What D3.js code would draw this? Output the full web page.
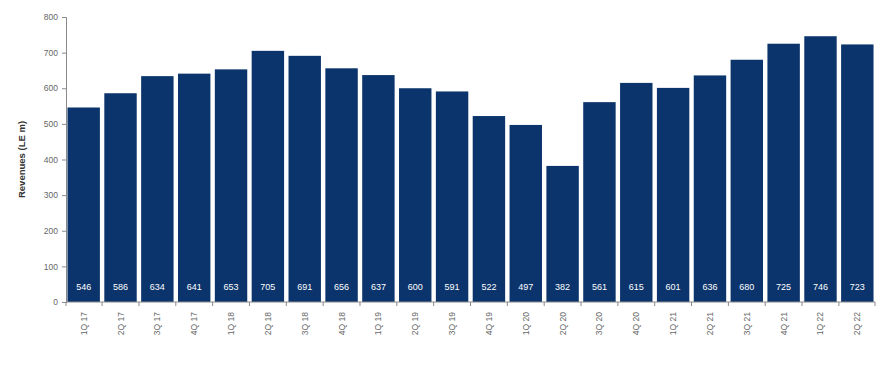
<!DOCTYPE html>
<html>
<head>
<meta charset="utf-8">
<script src="https://cdn.jsdelivr.net/npm/d3@7"></script>
<style>
  html, body { margin: 0; padding: 0; background: #fff; }
  svg { display: block; font-family: "Liberation Sans", Arial, sans-serif; }
</style>
</head>
<body>
<svg id="chart" width="888" height="372"></svg>
<script>
// Quarterly revenues, LE millions
const quarters = ["1Q 17","2Q 17","3Q 17","4Q 17","1Q 18","2Q 18","3Q 18","4Q 18","1Q 19","2Q 19","3Q 19","4Q 19","1Q 20","2Q 20","3Q 20","4Q 20","1Q 21","2Q 21","3Q 21","4Q 21","1Q 22","2Q 22"];
const revenues = [546, 586, 634, 641, 653, 705, 691, 656, 637, 600, 591, 522, 497, 382, 561, 615, 601, 636, 680, 725, 746, 723];
const yTicks = [0, 100, 200, 300, 400, 500, 600, 700, 800];
const yTitle = "Revenues (LE m)";

const svg = d3.select("#chart");
const m = { left: 66, right: 13, top: 17, bottom: 70 };
const W = 888, H = 372;

const x = d3.scaleBand().domain(quarters)
  .range([m.left, W - m.right]).paddingInner(0.12).paddingOuter(0.04);
const y = d3.scaleLinear().domain([0, 800]).range([H - m.bottom, m.top]);

const axisColor = "#8a8a8a";
const textColor = "#666";

// bars
svg.append("g").selectAll("rect").data(revenues).join("rect")
  .attr("x", (d, i) => x(quarters[i]))
  .attr("y", d => y(d))
  .attr("width", x.bandwidth())
  .attr("height", d => y(0) - y(d))
  .attr("fill", "#0b346c");

// value labels at the foot of each bar
svg.append("g").selectAll("text").data(revenues).join("text")
  .attr("x", (d, i) => x(quarters[i]) + x.bandwidth() / 2)
  .attr("y", y(0) - 12)
  .attr("text-anchor", "middle")
  .attr("font-size", 9)
  .attr("fill", "#fff")
  .text(d => d);

// y axis
const yAxis = svg.append("g").attr("transform", `translate(${m.left},0)`)
  .call(d3.axisLeft(y).tickValues(yTicks).tickSize(4).tickPadding(4));
yAxis.select(".domain").attr("stroke", axisColor);
yAxis.selectAll(".tick line").attr("stroke", axisColor);
yAxis.selectAll(".tick text").attr("fill", textColor).attr("font-size", 8.5)
  .attr("font-family", "Liberation Sans, Arial, sans-serif");

// x axis: ticks sit between categories
const xAxisG = svg.append("g").attr("transform", `translate(0,${y(0)})`);
xAxisG.append("line").attr("x1", m.left).attr("x2", W - m.right)
  .attr("stroke", axisColor);
const step = x.step();
const bounds = d3.range(quarters.length + 1).map(i =>
  i === 0 ? m.left : (i === quarters.length ? W - m.right : x(quarters[i]) - (step - x.bandwidth()) / 2));
xAxisG.selectAll("line.tk").data(bounds).join("line").attr("class", "tk")
  .attr("x1", d => d).attr("x2", d => d).attr("y1", 0).attr("y2", 4)
  .attr("stroke", axisColor);
xAxisG.selectAll("text").data(quarters).join("text")
  .attr("transform", d => `translate(${x(d) + x.bandwidth() / 2 + 3},${10}) rotate(-90)`)
  .attr("text-anchor", "end")
  .attr("font-size", 8.5)
  .attr("fill", textColor)
  .text(d => d);

// y axis title
svg.append("text")
  .attr("transform", `translate(25,${(y(0) + y(800)) / 2}) rotate(-90)`)
  .attr("text-anchor", "middle")
  .attr("font-size", 9.5)
  .attr("font-weight", "bold")
  .attr("fill", "#333")
  .text(yTitle);
</script>
</body>
</html>
